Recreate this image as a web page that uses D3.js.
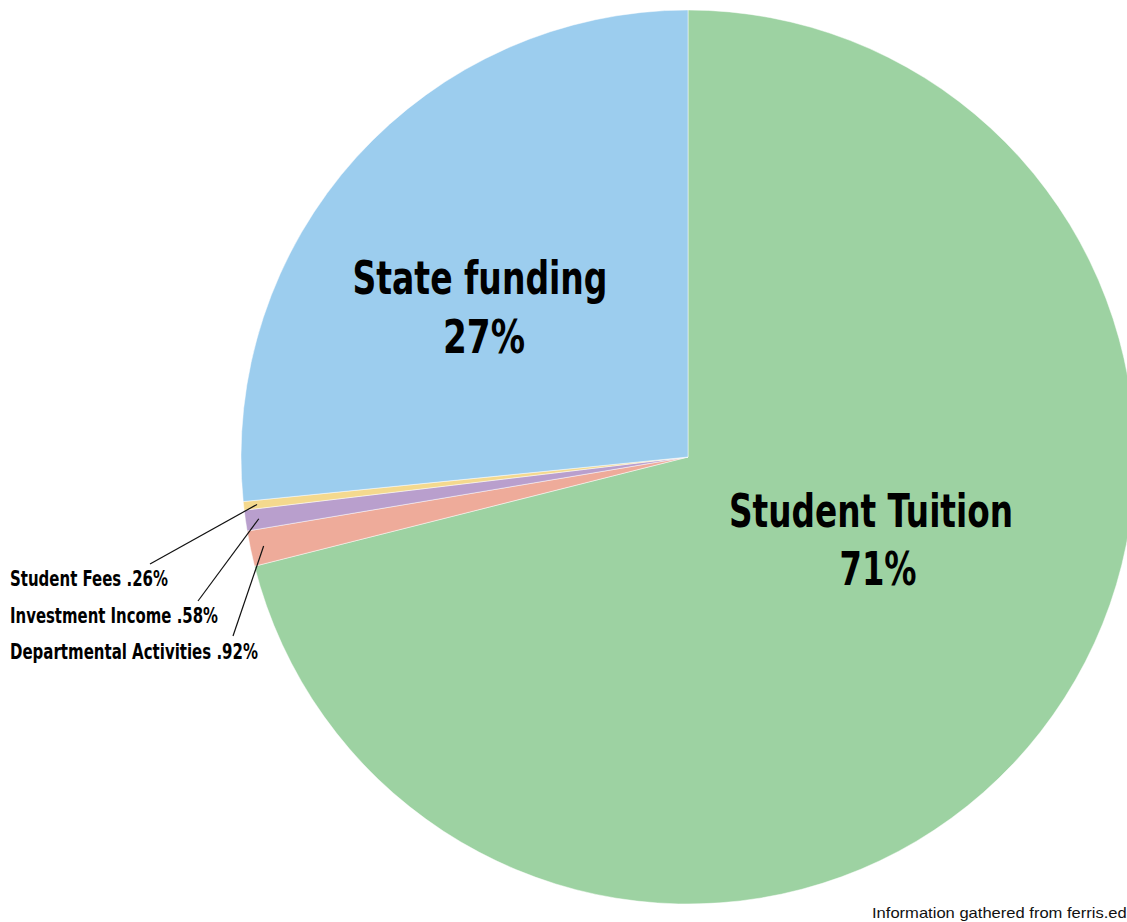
<!DOCTYPE html>
<html><head><meta charset="utf-8">
<script src="https://cdn.jsdelivr.net/npm/d3@7"></script>
<style>
html,body{margin:0;padding:0;background:#fff;overflow:hidden}
svg{display:block}
.big{font-family:"Liberation Sans Narrow","DejaVu Sans Condensed","DejaVu Sans",sans-serif;font-weight:bold;font-stretch:condensed}
</style></head><body>
<script>
const categories = ["Student Tuition","Departmental Activities","Investment Income","Student Fees","State funding"];
const shares = [71.1, 1.28, 0.75, 0.31, 26.6];
const labelPct = ["71%", ".92%", ".58%", ".26%", "27%"];
const colors = ["#9dd2a2","#eeab9a","#b99fcd","#f4d98e","#9ccdee"];

const W = 1127, H = 922, cx = 688, cy = 457, R = 447;
const svg = d3.select("body").append("svg").attr("width", W).attr("height", H);
const g = svg.append("g").attr("transform", `translate(${cx},${cy})`);

const data = categories.map((c,i)=>({cat:c, v:shares[i], pct:labelPct[i], color:colors[i]}));
const pie = d3.pie().value(d=>d.v).sort(null);
const arcs = pie(data);
const arc = d3.arc().innerRadius(0).outerRadius(R);

g.selectAll("path").data(arcs).join("path")
  .attr("d", arc).attr("fill", d=>d.data.color)
  .attr("stroke", "#ffffff").attr("stroke-width", 0.6).attr("stroke-opacity",0.8);

// big labels: [x, y, width]
const bigPos = {"State funding":[-208,-163,255], "Student Tuition":[183,70,284]};
const bigPct = {"State funding":[-204,-104,82], "Student Tuition":[190,128,77]};
arcs.filter(a=>bigPos[a.data.cat]).forEach(a=>{
  const p = bigPos[a.data.cat], q = bigPct[a.data.cat];
  g.append("text").attr("class","big").attr("x",p[0]).attr("y",p[1])
    .attr("text-anchor","middle").attr("font-size",46).attr("fill","#000")
    .attr("textLength",p[2]).attr("lengthAdjust","spacingAndGlyphs").text(a.data.cat);
  g.append("text").attr("class","big").attr("x",q[0]).attr("y",q[1])
    .attr("text-anchor","middle").attr("font-size",46).attr("fill","#000")
    .attr("textLength",q[2]).attr("lengthAdjust","spacingAndGlyphs").text(a.data.pct);
});

// small labels with leader lines
const small = {
  "Student Fees": {tx:10, ty:586, w:158, lx:150, ly:564},
  "Investment Income": {tx:10, ty:623, w:208, lx:198, ly:601},
  "Departmental Activities": {tx:10, ty:659, w:248, lx:233, ly:636}
};
arcs.filter(a=>small[a.data.cat]).forEach(a=>{
  const s = small[a.data.cat];
  const ang = (a.startAngle + a.endAngle)/2;
  const px = cx + R*0.97*Math.sin(ang), py = cy - R*0.97*Math.cos(ang);
  svg.append("line").attr("x1",s.lx).attr("y1",s.ly).attr("x2",px).attr("y2",py)
    .attr("stroke","#111").attr("stroke-width",1.2);
  svg.append("text").attr("class","big").attr("x",s.tx).attr("y",s.ty)
    .attr("font-size",20.5).attr("fill","#000")
    .attr("textLength",s.w).attr("lengthAdjust","spacingAndGlyphs")
    .text(a.data.cat + " " + a.data.pct);
});

svg.append("text").attr("x",872).attr("y",918)
  .attr("font-family","'Liberation Sans',Arial,sans-serif").attr("font-size",15)
  .attr("textLength",264).attr("lengthAdjust","spacingAndGlyphs")
  .attr("fill","#111").text("Information gathered from ferris.edu");
</script>
</body></html>
